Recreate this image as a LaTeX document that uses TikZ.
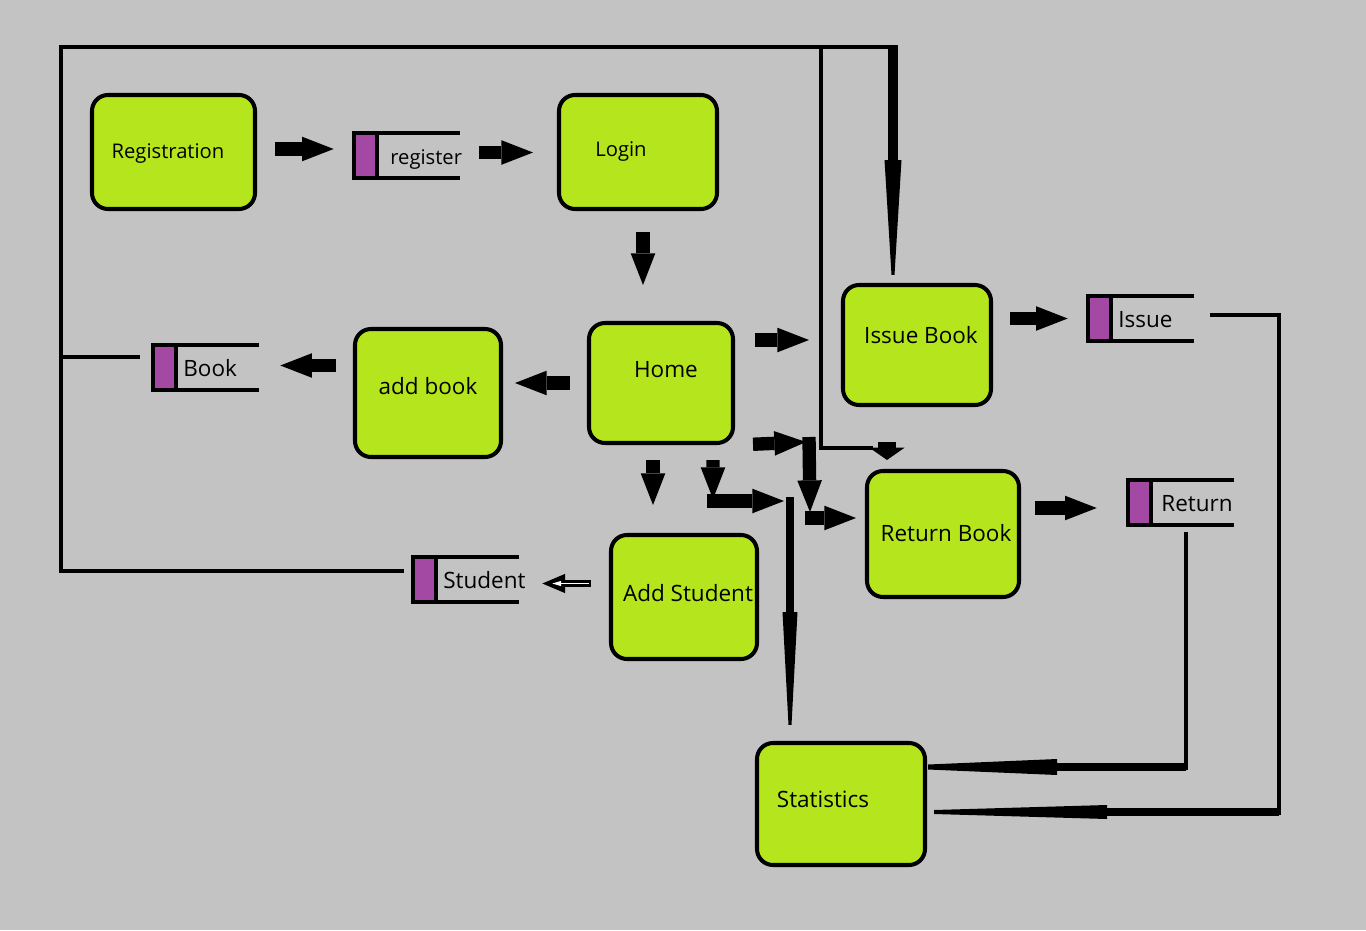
\documentclass[tikz,border=0pt]{standalone}
\usepackage{fontspec}
\setmainfont{Open Sans}
\usetikzlibrary{arrows.meta,calc}

\definecolor{paintgray}{RGB}{195,195,195}
\definecolor{paintlime}{RGB}{181,230,29}
\definecolor{paintpurple}{RGB}{163,73,164}

\tikzset{
	proc/.style={draw, line width=2.3pt, rounded corners=0.32cm, fill=paintlime, inner sep=0pt},
	bw/.style={minimum width=#1*0.02cm},
	bh/.style={minimum height=#1*0.02cm},
	lbl/.style={font=\fontsize{12.8}{15}\selectfont, inner sep=0pt, text height=1.5ex, text depth=.25ex},
	lblsmall/.style={font=\fontsize{11.5}{14}\selectfont, inner sep=0pt, text height=1.5ex, text depth=.25ex},
	blk/.style={line width=7.6pt, -{Triangle[length=18pt,width=14pt,line width=0pt]}},
	wire/.style={line width=2.6pt},
	storeline/.style={line width=2.2pt},
}

% data store: name, left x, top y, label style, text
\newcommand{\datastore}[5]{
	\fill[paintpurple] (#2+2,#3+2) rectangle (#2+21,#3+43);
	\draw[storeline] (#2+106,#3) -- (#2,#3) -- (#2,#3+45) -- (#2+106,#3+45);
	\draw[storeline] (#2+23,#3) -- (#2+23,#3+45);
	\node[inner sep=0pt, minimum width=2.12cm, minimum height=0.9cm] (#1) at (#2+53,#3+22.5) {};
	\node[#4, anchor=west] (#1-t) at (#2+30,#3+26) {#5};
}

\begin{document}
\begin{tikzpicture}[x=0.02cm, y=-0.02cm]

	% canvas
	\useasboundingbox (0,0) rectangle (1366,930);
	\fill[paintgray] (0,0) rectangle (1366,930);

	% processes
	\node[proc, bw=163, bh=114] (reg) at (173.5,152) {};
	\node[proc, bw=158, bh=114] (login) at (638,152) {};
	\node[proc, bw=144, bh=120] (home) at (661,383) {};
	\node[proc, bw=146, bh=128] (addbook) at (428,393) {};
	\node[proc, bw=148, bh=120] (issue) at (917,345) {};
	\node[proc, bw=152, bh=126] (ret) at (943,534) {};
	\node[proc, bw=146, bh=124] (addstu) at (684,597) {};
	\node[proc, bw=168, bh=122] (stats) at (841,804) {};

	\node[lblsmall] (reg-t) at (168,153) {Registration};
	\node[lblsmall] (login-t) at (621,151) {Login};
	\node[lbl] (home-t) at (666,372) {Home};
	\node[lbl] (addbook-t) at (428,389) {add book};
	\node[lbl] (issue-t) at (921,338) {Issue Book};
	\node[lbl] (ret-t) at (946,536) {Return Book};
	\node[lbl] (addstu-t) at (688,596) {Add Student};
	\node[lbl] (stats-t) at (823,802) {Statistics};

	% data stores
	\datastore{sreg}{354}{133}{lblsmall, xshift=0.12cm}{register}
	\datastore{sbook}{153}{345}{lbl}{Book}
	\datastore{sissue}{1088}{296}{lbl}{Issue}
	\datastore{sreturn}{1128}{480}{lbl, xshift=0.06cm}{Return}
	\datastore{sstudent}{413}{557}{lbl}{Student}

	% connector points
	\coordinate (fTL) at (61,47);
	\coordinate (fTR) at (893,45);
	\coordinate (fBL) at (61,571);
	\coordinate (fMid) at (821,45);
	\coordinate (fMidB) at (821,448);
	\coordinate (fMidE) at (873,448);
	\coordinate (cTap) at (893,160);
	\coordinate (cStub) at (887,442);
	\coordinate (cR1) at (806,442);
	\coordinate (cR2) at (809,437);
	\coordinate (cR3) at (810,512);
	\coordinate (cR4) at (805,518);
	\coordinate (cS1) at (713,499);
	\coordinate (cS2) at (707,501);
	\coordinate (cS3) at (784,501);
	\coordinate (cS4) at (790,497);
	\coordinate (cS5) at (790,612);
	\coordinate (cI) at (1279,315);
	\coordinate (cIb) at (1279,812);
	\coordinate (cIm) at (1107,812);
	\coordinate (cRt) at (1186,767);
	\coordinate (cRm) at (1057,767);

	% block arrows
	\draw[blk, shorten <=0.36cm, shorten >=0.4cm] ([yshift=0.06cm]reg.east) -- ([yshift=0.06cm]reg.east -| sreg.west);
	\draw[blk, shorten <=0.38cm, shorten >=0.48cm] ([yshift=0.06cm]sreg.east) -- ([yshift=0.06cm]sreg.east -| login.west);
	\draw[blk, shorten <=0.42cm, shorten >=0.72cm] ([xshift=0.1cm]login.south) -- ([xshift=0.1cm]login.south |- home.north);
	\draw[blk, shorten <=0.34cm, shorten >=0.24cm] (home.west) -- (home.west -| addbook.east);
	\draw[blk, shorten <=0.34cm, shorten >=0.42cm] ([yshift=0.04cm]sbook.east -| addbook.west) -- ([yshift=0.04cm]sbook.east);
	\draw[blk, shorten <=0.4cm, shorten >=0.64cm] ([yshift=0.1cm]issue.west -| home.east) -- ([yshift=0.1cm]issue.west);
	\draw[blk, shorten <=0.34cm, shorten >=0.4cm] (sissue.west -| issue.east) -- (sissue.west);
	\draw[blk, shorten <=0.28cm, shorten >=0.62cm] ([yshift=-0.11cm]sreturn.west -| ret.east) -- ([yshift=-0.11cm]sreturn.west);
	\draw[blk, shorten <=0.3cm, shorten >=0.56cm] ([xshift=-0.16cm]home.south) -- ([xshift=-0.16cm]home.south |- addstu.north);

	% open arrow to Student
	\draw[line width=4.4pt, -{Triangle[length=13pt,width=11pt,line width=0pt]}, shorten <=0.36cm, shorten >=0.46cm]
		([yshift=-0.08cm]sstudent.east -| addstu.west) -- ([yshift=-0.08cm]sstudent.east);
	\draw[white, line width=1pt, -{Triangle[length=5pt,width=3pt,line width=0pt]}, shorten <=0.4cm, shorten >=0.66cm]
		([yshift=-0.08cm]sstudent.east -| addstu.west) -- ([yshift=-0.08cm]sstudent.east);

	% Home to Return Book
	\draw[blk, shorten <=0.36cm] (home.south east) -- (cR1);
	\draw[blk] (cR2) -- (cR3);
	\draw[blk, shorten >=0.18cm] (cR4) -- (cR4 -| ret.west);

	% Home to Statistics
	\draw[blk, shorten <=0.3cm] ([xshift=1.04cm]home.south) -- (cS1);
	\draw[blk] (cS2) -- (cS3);
	\draw[line width=5pt] (cS4) -- (cS5);
	\fill ($(cS5)+(-7.5,0)$) -- ($(cS5)+(7.5,0)$)
		-- ([xshift=0.03cm,yshift=0.32cm]stats.north -| cS5)
		-- ([xshift=-0.03cm,yshift=0.32cm]stats.north -| cS5) -- cycle;

	% outer frame
	\draw[wire] ([xshift=-0.18cm]sstudent.west |- fBL) -- (fBL) -- (fTL) -- (fTR |- fTL);
	\draw[wire] ([yshift=0.21cm]sbook.west -| fTL) -- ([xshift=-0.26cm,yshift=0.21cm]sbook.west);

	% frame to Issue Book
	\draw[line width=5.7pt] (fTR) -- (cTap);
	\fill ($(cTap)+(-8.5,0)$) -- ($(cTap)+(8.5,0)$)
		-- ([xshift=0.03cm,yshift=0.16cm]issue.north -| cTap)
		-- ([xshift=-0.03cm,yshift=0.16cm]issue.north -| cTap) -- cycle;

	% frame to Return Book
	\draw[line width=2.3pt] (fMid) -- (fMidB) -- (fMidE);
	\draw[line width=10pt, -{Triangle[length=7pt,width=20pt,line width=0pt]}]
		(cStub) -- ([yshift=0.18cm]ret.north -| cStub);

	% Issue store to Statistics
	\draw[wire] ([xshift=0.32cm]sissue.east |- cI) -- (cI) -- ([yshift=-0.06cm]cIb);
	\draw[line width=4.5pt] (cIb) -- (cIm);
	\fill ($(cIm)+(0,-7)$) -- ($(cIm)+(0,7)$)
		-- ([xshift=0.14cm,yshift=-0.04cm]stats.east |- cIm)
		-- ([xshift=0.14cm,yshift=0.04cm]stats.east |- cIm) -- cycle;

	% Return store to Statistics
	\draw[wire] ([yshift=-0.14cm]sreturn.south -| cRt) -- ([yshift=-0.06cm]cRt);
	\draw[line width=4.5pt] (cRt) -- (cRm);
	\fill ($(cRm)+(0,-8)$) -- ($(cRm)+(0,8)$)
		-- ([xshift=0.02cm,yshift=-0.05cm]stats.east |- cRm)
		-- ([xshift=0.02cm,yshift=0.05cm]stats.east |- cRm) -- cycle;

\end{tikzpicture}
\end{document}
